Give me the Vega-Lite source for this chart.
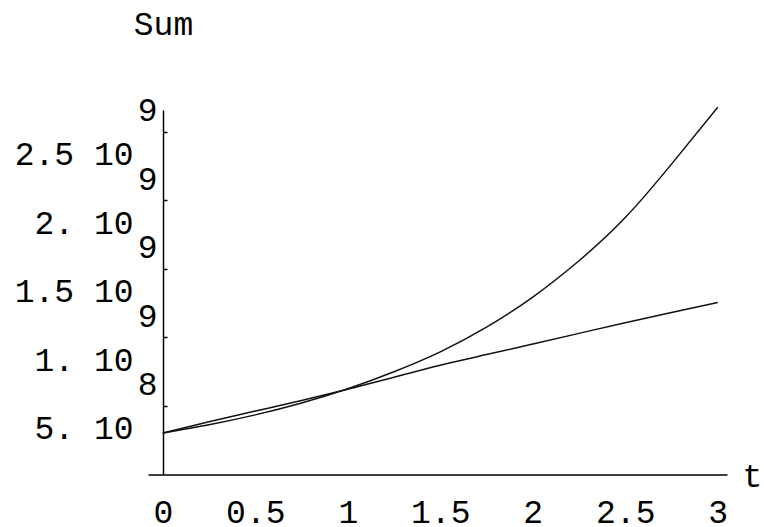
{
  "$schema": "https://vega.github.io/schema/vega-lite/v6.json",
  "width": 579,
  "height": 364.5,
  "autosize": "none",
  "padding": {"left": 148, "top": 110, "right": 37, "bottom": 52.5},
  "background": "white",
  "config": {
    "view": {"stroke": null},
    "axis": {
      "grid": false,
      "domainColor": "#000",
      "domainWidth": 1.5,
      "tickColor": "#000",
      "tickWidth": 1.5,
      "labelColor": "#000",
      "titleColor": "#000",
      "labelFont": "Liberation Mono",
      "titleFont": "Liberation Mono",
      "labelFontSize": 33,
      "titleFontSize": 33,
      "labelFontWeight": "normal",
      "titleFontWeight": "normal"
    }
  },
  "data": {
    "values": [
      {"t": 0, "v": 303000000, "s": "growth"},
      {"t": 0.25, "v": 363000000, "s": "growth"},
      {"t": 0.5, "v": 435000000, "s": "growth"},
      {"t": 0.75, "v": 522000000, "s": "growth"},
      {"t": 1, "v": 626000000, "s": "growth"},
      {"t": 1.25, "v": 750000000, "s": "growth"},
      {"t": 1.5, "v": 895000000, "s": "growth"},
      {"t": 1.75, "v": 1075000000, "s": "growth"},
      {"t": 2, "v": 1295000000, "s": "growth"},
      {"t": 2.25, "v": 1560000000, "s": "growth"},
      {"t": 2.5, "v": 1875000000, "s": "growth"},
      {"t": 2.75, "v": 2265000000, "s": "growth"},
      {"t": 3, "v": 2680000000, "s": "growth"},
      {"t": 0, "v": 303000000, "s": "slow"},
      {"t": 0.25, "v": 385000000, "s": "slow"},
      {"t": 0.5, "v": 463000000, "s": "slow"},
      {"t": 0.75, "v": 540000000, "s": "slow"},
      {"t": 1, "v": 622000000, "s": "slow"},
      {"t": 1.25, "v": 710000000, "s": "slow"},
      {"t": 1.5, "v": 798000000, "s": "slow"},
      {"t": 1.75, "v": 875000000, "s": "slow"},
      {"t": 2, "v": 952000000, "s": "slow"},
      {"t": 2.25, "v": 1030000000, "s": "slow"},
      {"t": 2.5, "v": 1108000000, "s": "slow"},
      {"t": 2.75, "v": 1182000000, "s": "slow"},
      {"t": 3, "v": 1255000000, "s": "slow"}
    ]
  },
  "mark": {"type": "line", "color": "#111", "strokeWidth": 1.5, "interpolate": "natural", "clip": false},
  "encoding": {
    "x": {
      "field": "t",
      "type": "quantitative",
      "scale": {"domain": [-0.08, 3.05], "nice": false, "zero": false},
      "axis": {
        "values": [0, 0.5, 1, 1.5, 2, 2.5, 3],
        "ticks": false,
        "labelPadding": 22,
        "labelExpr": "'' + datum.value",
        "labelFlush": false,
        "labelOverlap": false,
        "title": "t",
        "titleX": 604,
        "titleY": 2,
        "titleAlign": "center",
        "titleBaseline": "middle"
      }
    },
    "y": {
      "field": "v",
      "type": "quantitative",
      "scale": {"domain": [0, 2660000000], "nice": false},
      "axis": {
        "values": [500000000, 1000000000, 1500000000, 2000000000, 2500000000],
        "offset": -15,
        "tickSize": -4,
        "labelPadding": 10,
        "labelLineHeight": 44,
        "labelOffset": -21,
        "labelOverlap": false,
        "labelFlush": false,
        "labelExpr": "datum.value == 500000000 ? ['8', '5. 10\u2800'] : datum.value == 1000000000 ? ['9', '1. 10\u2800'] : datum.value == 1500000000 ? ['9', '1.5 10\u2800'] : datum.value == 2000000000 ? ['9', '2. 10\u2800'] : datum.value == 2500000000 ? ['9', '2.5 10\u2800'] : ''",
        "title": "Sum",
        "titleAngle": 0,
        "titleX": 0,
        "titleY": -86,
        "titleAlign": "center",
        "titleBaseline": "middle"
      }
    },
    "detail": {"field": "s", "type": "nominal"}
  }
}
